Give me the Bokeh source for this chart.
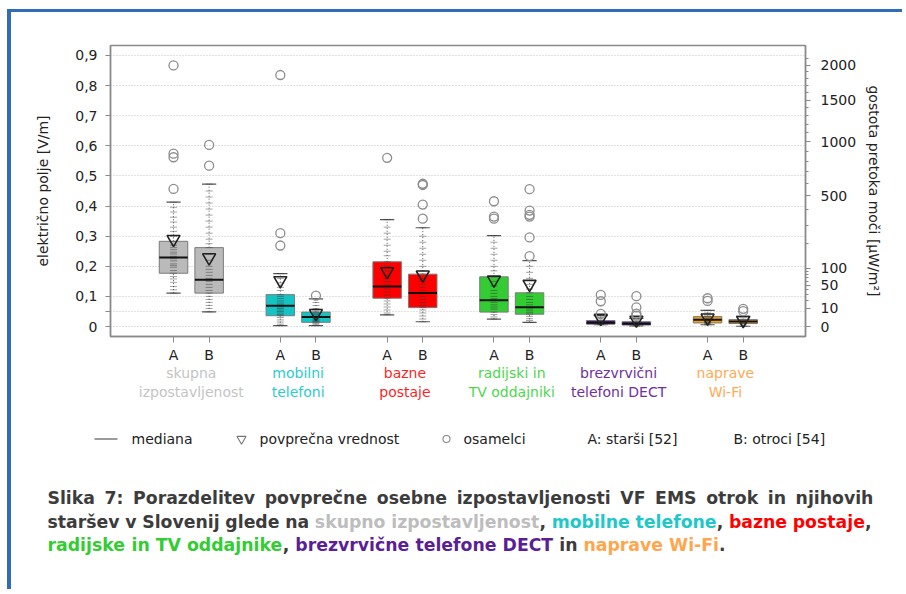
import math
from bokeh.plotting import figure
from bokeh.models import (FixedTicker, CustomJSTickFormatter, LinearAxis, Range1d, ColumnDataSource)
from bokeh.core.properties import value
from bokeh.embed import file_html
from bokeh.resources import INLINE

# ---------------- data ----------------
group_line1 = ["skupna", "mobilni", "bazne", "radijski in", "brezvrvični", "naprave"]
group_line2 = ["izpostavljenost", "telefoni", "postaje", "TV oddajniki", "telefoni DECT", "Wi-Fi"]
subgroups = ["A", "B"]

# boxes in order: group0 A, group0 B, group1 A, ...
q1 = [0.177, 0.111, 0.036, 0.014, 0.094, 0.063, 0.048, 0.041, 0.008, 0.005, 0.012, 0.010]
median = [0.229, 0.155, 0.069, 0.032, 0.133, 0.111, 0.087, 0.064, 0.013, 0.009, 0.023, 0.017]
q3 = [0.283, 0.262, 0.106, 0.048, 0.215, 0.174, 0.165, 0.112, 0.020, 0.016, 0.033, 0.023]
whisker_lo = [0.111, 0.049, 0.003, 0.003, 0.039, 0.016, 0.025, 0.014, 0.006, 0.002, 0.006, 0.001]
whisker_hi = [0.413, 0.473, 0.176, 0.092, 0.355, 0.328, 0.302, 0.219, 0.036, 0.027, 0.054, 0.034]
means = [0.290, 0.229, 0.153, 0.044, 0.183, 0.172, 0.155, 0.141, 0.028, 0.022, 0.029, 0.021]

outliers = [
    [0.867, 0.574, 0.562, 0.457],
    [0.603, 0.534],
    [0.835, 0.310, 0.269],
    [0.103],
    [0.560],
    [0.474, 0.470, 0.405, 0.358],
    [0.416, 0.365, 0.358],
    [0.456, 0.385, 0.371, 0.365, 0.296, 0.234],
    [0.105, 0.084, 0.042],
    [0.101, 0.064, 0.043, 0.036],
    [0.094, 0.085],
    [0.059, 0.051],
]

points = [
    [0.413, 0.396, 0.38, 0.363, 0.347, 0.33, 0.316, 0.30, 0.283, 0.27, 0.262, 0.255, 0.247, 0.241,
     0.233, 0.229, 0.225, 0.218, 0.208, 0.203, 0.197, 0.186, 0.177, 0.166, 0.158, 0.147, 0.133, 0.122, 0.111],
    [0.473, 0.45, 0.43, 0.41, 0.39, 0.37, 0.35, 0.33, 0.31, 0.29, 0.275, 0.262, 0.24, 0.22, 0.2, 0.19,
     0.18, 0.17, 0.16, 0.155, 0.15, 0.14, 0.13, 0.12, 0.111, 0.1, 0.09, 0.08, 0.07, 0.06, 0.049],
    [0.176, 0.16, 0.145, 0.13, 0.12, 0.106, 0.1, 0.093, 0.085, 0.078, 0.072, 0.069, 0.065, 0.06,
     0.055, 0.05, 0.045, 0.04, 0.036, 0.03, 0.022, 0.015, 0.008, 0.003],
    [0.092, 0.08, 0.07, 0.06, 0.052, 0.048, 0.044, 0.04, 0.036, 0.032, 0.028, 0.024, 0.02, 0.017,
     0.014, 0.01, 0.006, 0.003],
    [0.355, 0.33, 0.31, 0.29, 0.27, 0.25, 0.235, 0.215, 0.2, 0.185, 0.17, 0.16, 0.15, 0.14, 0.133,
     0.125, 0.115, 0.105, 0.094, 0.085, 0.075, 0.065, 0.055, 0.045, 0.039],
    [0.328, 0.3, 0.28, 0.26, 0.24, 0.22, 0.2, 0.185, 0.174, 0.16, 0.15, 0.14, 0.13, 0.12, 0.111,
     0.1, 0.09, 0.08, 0.07, 0.063, 0.055, 0.045, 0.035, 0.025, 0.016],
    [0.302, 0.28, 0.26, 0.24, 0.22, 0.2, 0.185, 0.165, 0.15, 0.135, 0.12, 0.11, 0.1, 0.093, 0.087,
     0.08, 0.072, 0.065, 0.058, 0.048, 0.04, 0.032, 0.025],
    [0.219, 0.2, 0.18, 0.16, 0.14, 0.125, 0.112, 0.1, 0.09, 0.08, 0.072, 0.064, 0.058, 0.052,
     0.046, 0.041, 0.034, 0.026, 0.02, 0.014],
    [0.036, 0.03, 0.025, 0.02, 0.017, 0.015, 0.013, 0.011, 0.009, 0.008, 0.006],
    [0.027, 0.022, 0.016, 0.013, 0.011, 0.009, 0.007, 0.005, 0.002],
    [0.054, 0.045, 0.038, 0.033, 0.029, 0.026, 0.023, 0.02, 0.017, 0.014, 0.012, 0.009, 0.006],
    [0.034, 0.029, 0.023, 0.02, 0.017, 0.015, 0.013, 0.01, 0.006, 0.001],
]

left_ticks = [0.0, 0.05, 0.1, 0.2, 0.3, 0.4, 0.5, 0.6, 0.7, 0.8, 0.9]
right_ticks_uw = [0, 10, 50, 100, 500, 1000, 1500, 2000]
right_minor_uw = [20, 30, 40, 60, 70, 80, 90, 200, 300, 400, 600, 700, 800, 900, 1100, 1200,
                  1300, 1400, 1600, 1700, 1800, 1900, 2100]

legend_items = ["mediana", "povprečna vrednost", "osamelci", "A: starši [52]", "B: otroci [54]"]

# caption words; the second list says which group's colour a word takes (-1 = plain text)
caption_line1 = ["Slika", "7:", "Porazdelitev", "povprečne", "osebne", "izpostavljenosti", "VF",
                 "EMS", "otrok", "in", "njihovih"]
caption_line2 = ["staršev", "v", "Slovenij", "glede", "na", "skupno", "izpostavljenost", ",",
                 "mobilne", "telefone", ",", "bazne", "postaje", ","]
caption_group2 = [-1, -1, -1, -1, -1, 0, 0, -1, 1, 1, -1, 2, 2, -1]
caption_line3 = ["radijske", "in", "TV", "oddajnike", ",", "brezvrvične", "telefone", "DECT", "in",
                 "naprave", "Wi-Fi", "."]
caption_group3 = [3, 3, 3, 3, -1, 4, 4, 4, -1, 5, 5, -1]

# ---------------- styles / layout constants ----------------
group_fill = ["#bababa", "#14c4c4", "#ff0000", "#33cc33", "#4a1480", "#f2a20c"]
group_text = ["#c4c4c4", "#2ccccc", "#ff1f1f", "#4dd64d", "#7030a0", "#ffaa55"]
caption_col = ["#bdbdbd", "#1ec8c8", "#ff0000", "#33cc33", "#5a1e96", "#ffa64d"]

Z0 = 376.730          # impedance of free space: S = E^2 / Z0
FONT = "DejaVu Sans"
DARK = "#222222"
AXC = "#8a8a8a"
BLUE = "#2f6db5"
CAP = "#3c3c3c"
CAP_PX = 17.3
PAGE_L, PAGE_T = 11, 12
W = 895
H1 = 354
T2 = PAGE_T + H1
H2 = 226
X0, X1 = -1.77, 17.75
FR_L, FR_R = 110, 805
PX_PER_X = (FR_R - FR_L) / (X1 - X0)

# approximate advance widths (em) of DejaVu Sans Bold, used to justify the caption
EMW = {' ': 0.348, ',': 0.380, '.': 0.380, ':': 0.400, '-': 0.415, '7': 0.696,
       'a': 0.675, 'b': 0.716, 'c': 0.593, 'č': 0.593, 'd': 0.716, 'e': 0.678, 'f': 0.435,
       'g': 0.716, 'h': 0.712, 'i': 0.343, 'j': 0.343, 'k': 0.665, 'l': 0.343, 'm': 1.042,
       'n': 0.712, 'o': 0.687, 'p': 0.716, 'r': 0.493, 's': 0.595, 'š': 0.595, 't': 0.478,
       'u': 0.712, 'v': 0.652, 'z': 0.582, 'C': 0.734, 'D': 0.830, 'E': 0.683, 'F': 0.683,
       'M': 0.995, 'P': 0.733, 'S': 0.721, 'T': 0.682, 'V': 0.774, 'W': 1.103}


def xd(page_x):
    return (page_x - FR_L) / PX_PER_X + X0


def yy(page_y):
    return page_y - T2


def text_w(s):
    return sum(EMW.get(ch, 0.65) for ch in s) * CAP_PX


def word_x(words, x_start, x_end=None):
    attached = [w in (",", ".") for w in words]
    widths = [text_w(w) for w in words]
    n_gaps = sum(1 for i in range(1, len(words)) if not attached[i])
    gap = EMW[' '] * CAP_PX if x_end is None else (x_end - x_start - sum(widths)) / n_gaps
    xs, x = [], x_start
    for i, w in enumerate(words):
        if i > 0 and not attached[i]:
            x += gap
        xs.append(x)
        x += widths[i]
    return xs


# ---------------- derived ----------------
n_box = len(q1)
xpos = [3 * (k // 2) + (k % 2) for k in range(n_box)]
fills = [group_fill[k // 2] for k in range(n_box)]

box_src = ColumnDataSource(dict(x=xpos, q1=q1, q3=q3, med=median, lo=whisker_lo, hi=whisker_hi,
                                mean=means, fill=fills,
                                xl=[x - 0.4 for x in xpos], xr=[x + 0.4 for x in xpos],
                                cl=[x - 0.2 for x in xpos], cr=[x + 0.2 for x in xpos]))
ox, oy = [], []
for k, vals in enumerate(outliers):
    ox += [xpos[k]] * len(vals)
    oy += vals
px, py = [], []
for k, vals in enumerate(points):
    px += [xpos[k]] * len(vals)
    py += vals

# ---------------- main chart ----------------
p = figure(width=W, height=H1, x_range=Range1d(X0, X1), y_range=Range1d(-0.033, 0.933),
           output_backend="svg", toolbar_location=None,
           min_border_left=FR_L - PAGE_L, min_border_right=W - (FR_R - PAGE_L),
           min_border_top=45 - PAGE_T, min_border_bottom=H1 - (336 - PAGE_T))
p.styles = {"margin-left": "7px", "margin-top": "9px",
            "border-top": "3px solid " + BLUE, "border-left": "4px solid " + BLUE}
p.outline_line_color = AXC
p.outline_line_width = 1.6
p.border_fill_color = "white"

ya = p.yaxis[0]
ya.ticker = FixedTicker(ticks=left_ticks)
ya.formatter = CustomJSTickFormatter(code="""
if (Math.abs(tick - 0.05) < 1e-6) return "";
if (Math.abs(tick) < 1e-9) return "0";
return tick.toFixed(1).replace(".", ",");
""")
ya.axis_label = "električno polje [V/m]"
ya.minor_tick_line_color = None
ya.major_tick_out = 5
ya.major_tick_in = 0
ya.major_label_standoff = 8
ya.axis_label_standoff = 21

xa = p.xaxis[0]
xa.ticker = FixedTicker(ticks=xpos)
xa.formatter = CustomJSTickFormatter(code="return (Math.round(tick) % 3 == 0) ? 'A' : 'B';")
xa.minor_tick_line_color = None
xa.major_tick_out = 6
xa.major_tick_in = 0
xa.major_label_standoff = 4

ra = LinearAxis(
    ticker=FixedTicker(ticks=[math.sqrt(s * 1e-6 * Z0) for s in right_ticks_uw],
                       minor_ticks=[math.sqrt(s * 1e-6 * Z0) for s in right_minor_uw]),
    formatter=CustomJSTickFormatter(code="return String(Math.round(tick*tick/%f*1e6/10)*10);" % Z0),
    axis_label="gostota pretoka moči [µW/m²]")
ra.major_tick_out = 5
ra.major_tick_in = 0
ra.minor_tick_out = 3
ra.minor_tick_in = 0
ra.major_label_standoff = 10
ra.axis_label_standoff = 7
p.add_layout(ra, "right")

for ax in (ya, xa, ra):
    ax.axis_line_color = AXC
    ax.axis_line_width = 1.3
    ax.major_tick_line_color = AXC
    ax.major_label_text_font = FONT
    ax.major_label_text_font_size = "14px"
    ax.major_label_text_color = DARK
    ax.axis_label_text_font = FONT
    ax.axis_label_text_font_size = "14px"
    ax.axis_label_text_font_style = "normal"
    ax.axis_label_text_color = DARK
ra.minor_tick_line_color = AXC

p.xgrid.grid_line_color = None
p.ygrid.ticker = FixedTicker(ticks=left_ticks)
p.ygrid.grid_line_color = "#c4c4c4"
p.ygrid.grid_line_dash = "1 2"

p.segment(x0="x", y0="q3", x1="x", y1="hi", source=box_src, line_color="#555555",
          line_dash="1 2", line_width=1)
p.segment(x0="x", y0="lo", x1="x", y1="q1", source=box_src, line_color="#555555",
          line_dash="1 2", line_width=1)
p.segment(x0="cl", y0="hi", x1="cr", y1="hi", source=box_src, line_color="#555555", line_width=1.2)
p.segment(x0="cl", y0="lo", x1="cr", y1="lo", source=box_src, line_color="#555555", line_width=1.2)
p.vbar(x="x", width=0.8, bottom="q1", top="q3", source=box_src, fill_color="fill",
       line_color="#7a7a7a", line_width=1)
p.scatter(px, py, marker="dash", size=7, line_color="#333333", line_alpha=0.45, line_width=1)
p.segment(x0="xl", y0="med", x1="xr", y1="med", source=box_src, line_color="#111111", line_width=2)
p.scatter(x="x", y="mean", source=box_src, marker="inverted_triangle", size=13,
          fill_color=None, line_color="#222222", line_width=1.6)
p.scatter(ox, oy, marker="circle", size=9, fill_color=None, line_color="#8c8c8c", line_width=1.3)

# ---------------- lower panel: group names, legend, caption ----------------
q = figure(width=W, height=H2, x_range=Range1d(xd(PAGE_L), xd(PAGE_L + W)),
           y_range=Range1d(H2, 0), output_backend="svg", toolbar_location=None,
           min_border=0, x_axis_location=None, y_axis_location=None)
q.styles = {"margin-left": "7px", "border-left": "4px solid " + BLUE}
q.outline_line_color = None
q.xgrid.grid_line_color = None
q.ygrid.grid_line_color = None
q.border_fill_color = "white"


def txt(x, y, text, color=DARK, size="14px", align="left", style="normal"):
    q.text(x=[x], y=[y], text=[text], text_color=color, text_font=value(FONT),
           text_font_size=size, text_align=align, text_baseline="middle",
           text_font_style=style)


gx = [3 * g + 0.5 for g in range(len(group_line1))]
q.text(x=gx, y=[yy(375)] * len(gx), text=group_line1, text_color=group_text,
       text_font=value(FONT), text_font_size="14px", text_align="center", text_baseline="middle")
q.text(x=gx, y=[yy(394.5)] * len(gx), text=group_line2, text_color=group_text,
       text_font=value(FONT), text_font_size="14px", text_align="center", text_baseline="middle")

ly = yy(441.5)
q.segment(x0=[xd(94)], y0=[ly], x1=[xd(117)], y1=[ly], line_color="#7a7a7a", line_width=1.3)
txt(xd(131), ly, legend_items[0])
q.scatter(x=[xd(241)], y=[ly], marker="inverted_triangle", size=9, fill_color=None,
          line_color="#777777", line_width=1.1)
txt(xd(259), ly, legend_items[1])
q.scatter(x=[xd(446)], y=[ly], marker="circle", size=7, fill_color=None,
          line_color="#888888", line_width=1.1)
txt(xd(463), ly, legend_items[2])
txt(xd(587), ly, legend_items[3])
txt(xd(733), ly, legend_items[4])

# caption: lines 1 and 2 justified between 47 and 873 px, line 3 left-aligned
caption_rows = [
    (caption_line1, [-1] * len(caption_line1), 500, 873),
    (caption_line2, caption_group2, 524, 871),
    (caption_line3, caption_group3, 547, None),
]
for words, grp, page_y, x_end in caption_rows:
    xs = word_x(words, 47, x_end)
    q.text(x=[xd(v) for v in xs], y=[yy(page_y)] * len(words), text=words,
           text_color=[CAP if g < 0 else caption_col[g] for g in grp],
           text_font=value(FONT), text_font_size="%.1fpx" % CAP_PX, text_font_style="bold",
           text_align="left", text_baseline="middle")

open("out.html", "w").write(file_html([p, q], INLINE))
